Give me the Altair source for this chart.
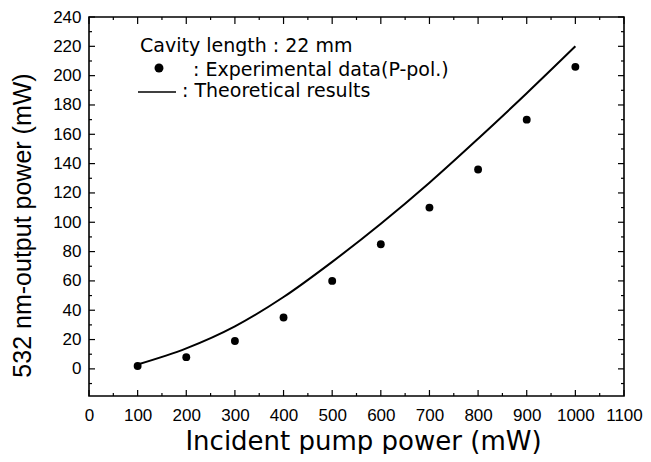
import altair as alt
import pandas as pd

# ---- data ----
pump_exp = [100, 200, 300, 400, 500, 600, 700, 800, 900, 1000]
out_exp = [2, 8, 19, 35, 60, 85, 110, 136, 170, 206]

pump_th = [100, 200, 300, 400, 500, 600, 700, 800, 900, 1000]
out_th = [3, 14, 29, 49, 73, 99, 127, 157, 188, 220]

x_major = [0, 100, 200, 300, 400, 500, 600, 700, 800, 900, 1000, 1100]
x_minor = [50, 150, 250, 350, 450, 550, 650, 750, 850, 950, 1050]
y_major = [0, 20, 40, 60, 80, 100, 120, 140, 160, 180, 200, 220, 240]
y_minor = [-10, 10, 30, 50, 70, 90, 110, 130, 150, 170, 190, 210, 230]

x_title = "Incident pump power (mW)"
y_title = "532 nm-output power (mW)"
legend_title = "Cavity length : 22 mm"
legend_exp = ": Experimental data(P-pol.)"
legend_th = ": Theoretical results"

X_DOMAIN = [0, 1100]
Y_DOMAIN = [-18.5, 240]
W, H = 535, 379

xs = alt.Scale(domain=X_DOMAIN, nice=False, zero=False)
ys = alt.Scale(domain=Y_DOMAIN, nice=False, zero=False)

df_exp = pd.DataFrame({"pump": pump_exp, "out": out_exp})
df_th = pd.DataFrame({"pump": pump_th, "out": out_th})

x_axis = alt.Axis(
    values=x_major, format="d", title=x_title, grid=False, domain=False,
    ticks=False, tickSize=0, labelPadding=11, labelFont="Liberation Sans",
    labelFontSize=17, labelColor="black", labelOverlap=False, labelFlush=False,
    titleFont="DejaVu Sans", titleFontSize=26, titleFontWeight="normal",
    titleColor="black", titleX=274, titleY=53, titleAlign="center",
    titleBaseline="alphabetic",
)
y_axis = alt.Axis(
    values=y_major, format="d", title=y_title, grid=False, domain=False,
    ticks=False, tickSize=0, labelPadding=8, labelFont="Liberation Sans",
    labelFontSize=17, labelColor="black", labelOverlap=False, labelFlush=False,
    titleFont="Liberation Sans", titleFontSize=25, titleFontWeight="normal",
    titleColor="black", titleX=-59, titleY=208, titleAlign="center",
    titleBaseline="alphabetic", titleAngle=270,
)

line = alt.Chart(df_th).mark_line(
    color="black", strokeWidth=2, interpolate="monotone"
).encode(
    x=alt.X("pump:Q", scale=xs, axis=x_axis),
    y=alt.Y("out:Q", scale=ys, axis=y_axis),
)

points = alt.Chart(df_exp).mark_circle(color="black", size=62, opacity=1).encode(
    x=alt.X("pump:Q", scale=xs, axis=x_axis),
    y=alt.Y("out:Q", scale=ys, axis=y_axis),
)


def xticks(vals, y0, y1):
    return alt.Chart(pd.DataFrame({"pump": vals})).mark_rule(
        color="black", strokeWidth=1.2
    ).encode(
        x=alt.X("pump:Q", scale=xs, axis=x_axis),
        y=alt.value(y0), y2=alt.value(y1),
    )


def yticks(vals, x0, x1):
    return alt.Chart(pd.DataFrame({"out": vals})).mark_rule(
        color="black", strokeWidth=1.2
    ).encode(
        y=alt.Y("out:Q", scale=ys, axis=y_axis),
        x=alt.value(x0), x2=alt.value(x1),
    )


ticks = [
    xticks(x_major, H, H - 6), xticks(x_minor, H, H - 3),
    xticks(x_major, 0, 7), xticks(x_minor, 0, 3),
    yticks(y_major, 0, 6), yticks(y_minor, 0, 3),
    yticks(y_major, W, W - 6), yticks(y_minor, W, W - 3),
]

font_leg = dict(font="DejaVu Sans", fontSize=19, color="black",
                align="left", baseline="alphabetic")

leg1 = alt.Chart(pd.DataFrame({"t": [legend_title]})).mark_text(**font_leg).encode(
    x=alt.value(51), y=alt.value(35), text="t:N")
leg2 = alt.Chart(pd.DataFrame({"t": [legend_exp]})).mark_text(**font_leg).encode(
    x=alt.value(104), y=alt.value(59), text="t:N")
leg3 = alt.Chart(pd.DataFrame({"t": [legend_th]})).mark_text(**font_leg).encode(
    x=alt.value(93), y=alt.value(80), text="t:N")
leg_dot = alt.Chart(pd.DataFrame({"t": [legend_exp]})).mark_circle(
    color="black", size=80, opacity=1).encode(x=alt.value(70), y=alt.value(51))
leg_line = alt.Chart(pd.DataFrame({"t": [legend_th]})).mark_rule(
    color="black", strokeWidth=1.5).encode(
    x=alt.value(49), x2=alt.value(87), y=alt.value(75))

chart = alt.layer(
    line, points, *ticks, leg1, leg2, leg3, leg_dot, leg_line
).properties(
    width=W, height=H,
    autosize=alt.AutoSizeParams(type="none"),
    padding={"left": 81, "top": 9, "right": 19, "bottom": 58},
    background="white",
).configure_view(
    stroke="black", strokeWidth=1.6
)

chart.save("out.html", embed_options={"renderer": "svg", "actions": False})
